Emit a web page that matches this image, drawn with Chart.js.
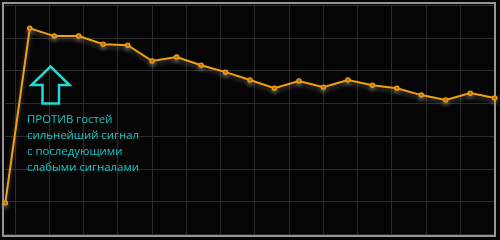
<!DOCTYPE html>
<html>
<head>
<meta charset="utf-8">
<script src="https://cdn.jsdelivr.net/npm/chart.js@4"></script>
<style>
  html, body { margin: 0; padding: 0; background: #050505; }
  #wrap { position: relative; width: 500px; height: 240px; background: #050505; }
  #note { position: absolute; left: 27px; top: 111px; color: #16c6c4;
          font-family: "Open Sans", sans-serif; font-size: 11.4px; line-height: 16px; white-space: nowrap; }
</style>
</head>
<body>
<div id="wrap">
  <canvas id="c" width="500" height="240"></canvas>
  <div id="note">ПРОТИВ гостей<br>сильнейший сигнал<br>с последующими<br>слабыми сигналами</div>
</div>
<script>
// Data (arbitrary signal units)
const steps = [0,1,2,3,4,5,6,7,8,9,10,11,12,13,14,15,16,17,18,19,20];
const signal = [0.97,6.30,6.06,6.06,5.81,5.78,5.30,5.42,5.17,4.96,4.72,4.47,4.69,4.50,4.72,4.56,4.47,4.26,4.11,4.32,4.17];
const yTicks = [0,1,2,3,4,5,6,7];
const gridCols = [0,1,2,3,4,5,6,7,8,9,10,11,12,13,14];

const points = steps.map((s, i) => ({ x: s, y: signal[i] }));

const frame = {
  id: 'frame',
  beforeDatasetsDraw(chart) {
    const ctx = chart.ctx;
    ctx.save();
    ctx.strokeStyle = '#959595';
    ctx.lineWidth = 2;
    ctx.strokeRect(3, 3, 492, 233);
    ctx.restore();
  },
  afterDatasetsDraw(chart) {
    const ctx = chart.ctx;
    ctx.save();
    ctx.strokeStyle = '#22d9d2';
    ctx.lineWidth = 2.5;
    ctx.lineJoin = 'miter';
    ctx.beginPath();
    ctx.moveTo(50.5, 66.5);
    ctx.lineTo(69.5, 85);
    ctx.lineTo(59, 85);
    ctx.lineTo(59, 103.5);
    ctx.lineTo(42.5, 103.5);
    ctx.lineTo(42.5, 85);
    ctx.lineTo(31.5, 85);
    ctx.closePath();
    ctx.stroke();
    ctx.restore();
  }
};

const glow = {
  id: 'glow',
  beforeDatasetDraw(chart) {
    const ctx = chart.ctx;
    ctx.save();
    ctx.shadowColor = 'rgba(140,140,140,0.55)';
    ctx.shadowBlur = 4;
    ctx.shadowOffsetY = 2.5;
  },
  afterDatasetDraw(chart) {
    chart.ctx.restore();
  }
};

new Chart(document.getElementById('c'), {
  type: 'line',
  data: {
    datasets: [{
      data: points,
      borderColor: '#f4a00c',
      borderWidth: 2,
      pointRadius: 2.1,
      pointBorderWidth: 1.3,
      pointBorderColor: '#f4a00c',
      pointBackgroundColor: '#b86e00',
      tension: 0,
      clip: false
    }]
  },
  options: {
    responsive: false,
    animation: false,
    events: [],
    layout: { padding: { left: 4, right: 5, top: 5, bottom: 5 } },
    plugins: { legend: { display: false }, tooltip: { enabled: false } },
    scales: {
      x: {
        type: 'linear', min: steps[0], max: steps[steps.length - 1],
        grid: { display: false, drawTicks: false },
        ticks: { display: false },
        border: { display: false }
      },
      x2: {
        type: 'linear', position: 'bottom',
        min: gridCols[0] - 0.29, max: gridCols[gridCols.length - 1],
        afterBuildTicks(scale) { scale.ticks = gridCols.map(v => ({ value: v })); },
        grid: { display: true, color: '#2c2c2c', lineWidth: 1, drawTicks: false },
        ticks: { display: false },
        border: { display: false }
      },
      y: {
        type: 'linear', min: yTicks[0], max: yTicks[yTicks.length - 1],
        afterBuildTicks(scale) { scale.ticks = yTicks.map(v => ({ value: v })); },
        grid: { display: true, color: '#2c2c2c', lineWidth: 1, drawTicks: false },
        ticks: { display: false },
        border: { display: false }
      }
    }
  },
  plugins: [frame, glow]
});
</script>
</body>
</html>
